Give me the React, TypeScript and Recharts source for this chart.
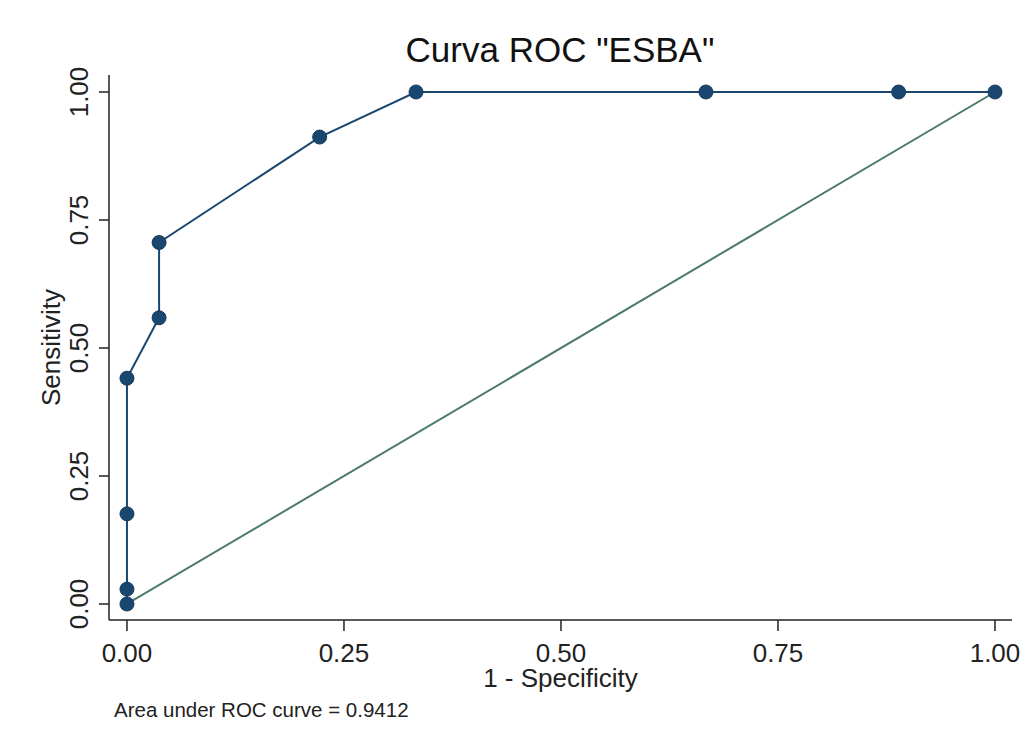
import React from 'react';
import { ScatterChart, Scatter, XAxis, YAxis, Label } from 'recharts';

// 1 - specificity (false positive rate) for each cut point
const fpr = [0, 0, 0, 0, 0.037, 0.037, 0.222, 0.333, 0.667, 0.889, 1];
// sensitivity for each cut point
const tpr = [0, 0.029, 0.176, 0.441, 0.559, 0.706, 0.912, 1, 1, 1, 1];

const diagX = [0, 1];
const diagY = [0, 1];

const axisTicks = [0, 0.25, 0.5, 0.75, 1];

const rocData = fpr.map((x, i) => ({ x, y: tpr[i] }));
const diagData = diagX.map((x, i) => ({ x, y: diagY[i] }));

const FONT = '"Liberation Sans", Arial, sans-serif';
const NAVY = '#1a476f';
const DIAG = '#4b7a68';

const YTick = (props: any) => {
  const { x, y, payload } = props;
  return (
    <text
      x={x}
      y={y}
      transform={`rotate(-90 ${x} ${y})`}
      textAnchor="middle"
      fontSize={26}
      fontFamily={FONT}
      fill="#222"
    >
      {Number(payload.value).toFixed(2)}
    </text>
  );
};

const XTick = (props: any) => {
  const { x, y, payload } = props;
  return (
    <text x={x} y={y + 19} textAnchor="middle" fontSize={26} fontFamily={FONT} fill="#222">
      {Number(payload.value).toFixed(2)}
    </text>
  );
};

const Dot = (props: any) => {
  const { cx, cy } = props;
  return <circle cx={cx} cy={cy} r={7} fill={NAVY} stroke="#163a5c" strokeWidth={1} />;
};

const App = () => {
  return (
    <div style={{ position: 'absolute', left: 0, top: 0, width: 1026, height: 747, background: '#fff', fontFamily: FONT }}>
      <div
        style={{
          position: 'absolute',
          left: 0,
          width: 1120,
          top: 30,
          textAlign: 'center',
          fontSize: 35,
          lineHeight: '40px',
          color: '#111',
        }}
      >
        Curva ROC "ESBA"
      </div>
      <ScatterChart width={1026} height={747} margin={{ top: 75, right: 14, bottom: 57, left: 0 }}>
        <XAxis
          type="number"
          dataKey="x"
          domain={[-0.0207, 1.0196]}
          ticks={axisTicks}
          tick={<XTick />}
          tickSize={11}
          tickMargin={12}
          height={70}
          stroke="#222"
          strokeWidth={1.5}
          allowDataOverflow
        >
          <Label
            content={({ viewBox }: any) => (
              <text
                x={viewBox.x + viewBox.width / 2}
                y={687}
                textAnchor="middle"
                fontSize={26}
                fontFamily={FONT}
                fill="#222"
              >
                1 - Specificity
              </text>
            )}
          />
        </XAxis>
        <YAxis
          type="number"
          dataKey="y"
          domain={[-0.0313, 1.0332]}
          ticks={axisTicks}
          tick={<YTick />}
          tickSize={10}
          tickMargin={11}
          width={109}
          stroke="#222"
          strokeWidth={1.5}
          allowDataOverflow
        >
          <Label
            content={({ viewBox }: any) => {
              const cx = 60;
              const cy = viewBox.y + viewBox.height / 2;
              return (
                <text
                  x={cx}
                  y={cy}
                  transform={`rotate(-90 ${cx} ${cy})`}
                  textAnchor="middle"
                  fontSize={26}
                  fontFamily={FONT}
                  fill="#222"
                >
                  Sensitivity
                </text>
              );
            }}
          />
        </YAxis>
        <Scatter
          data={diagData}
          line={{ stroke: DIAG, strokeWidth: 2 }}
          shape={() => null}
          isAnimationActive={false}
        />
        <Scatter
          data={rocData}
          line={{ stroke: NAVY, strokeWidth: 2 }}
          shape={<Dot />}
          isAnimationActive={false}
        />
      </ScatterChart>
      <div
        style={{
          position: 'absolute',
          left: 114,
          top: 697,
          fontSize: 20.5,
          lineHeight: '26px',
          color: '#222',
        }}
      >
        Area under ROC curve = 0.9412
      </div>
    </div>
  );
};

export default App;
